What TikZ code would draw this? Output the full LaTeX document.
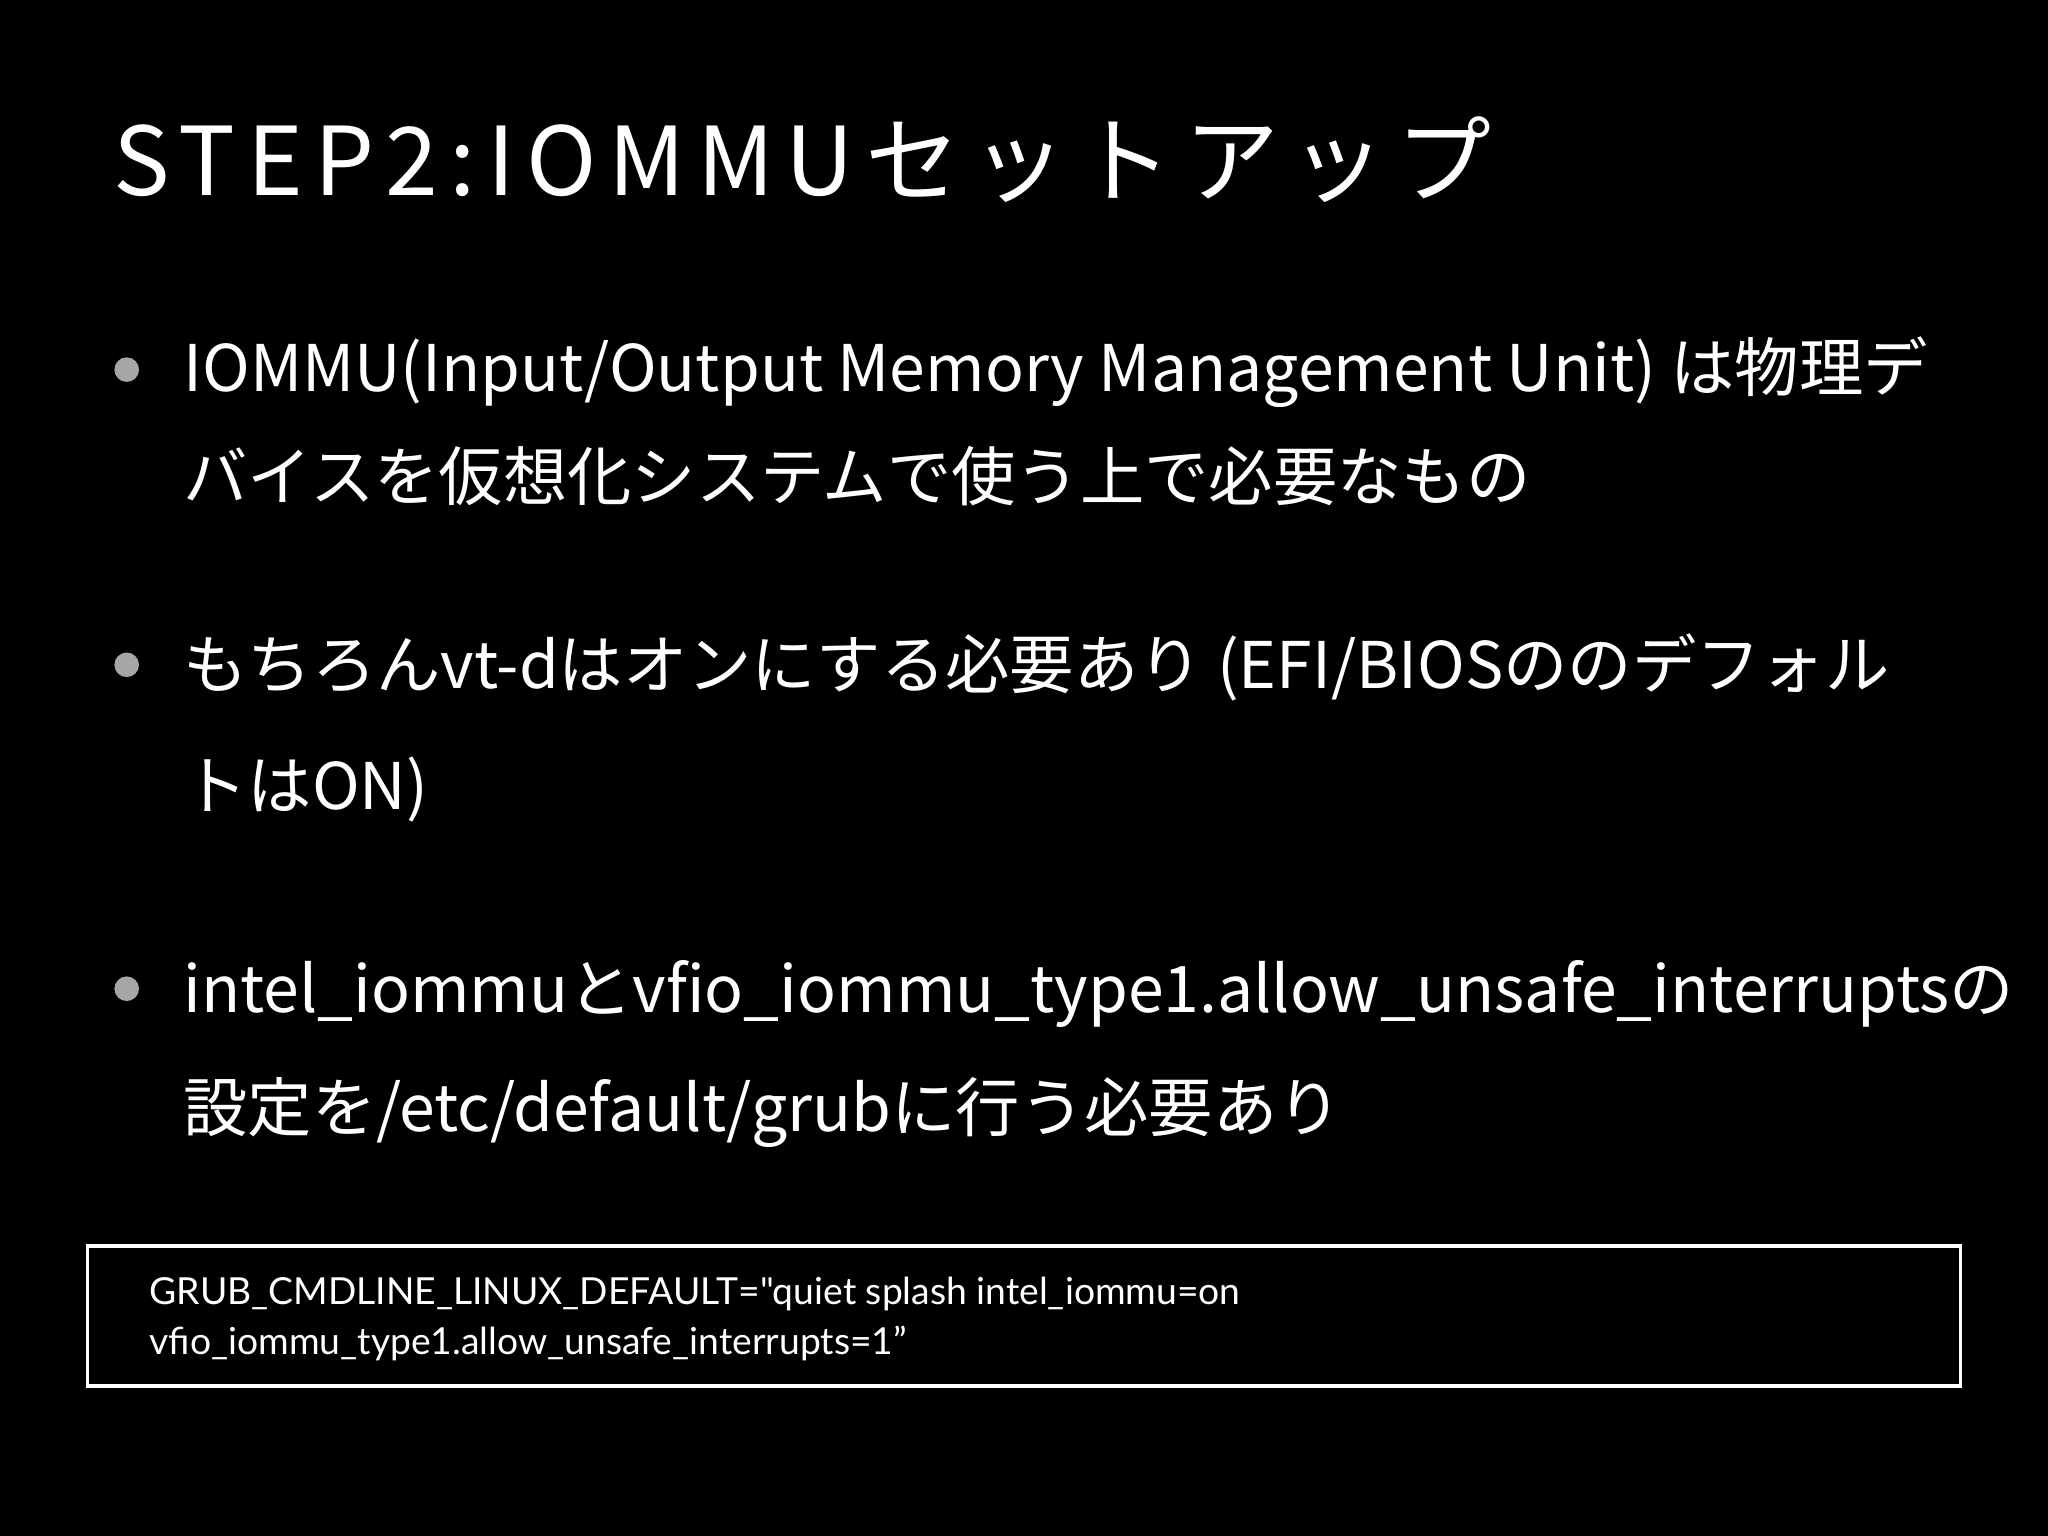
\documentclass[tikz,border=0pt]{standalone}
\usepackage{fontspec}
\setmainfont{Noto Sans CJK JP}
\newfontfamily\latinf{Lato}
\begin{document}
\begin{tikzpicture}[x=0.01306cm,y=-0.01306cm,
  body/.style={anchor=base west,inner sep=0,text=white,font=\fontsize{18.3}{22}\selectfont},
  code/.style={anchor=base west,inner sep=0,text=white,font=\latinf\fontsize{10.6}{13}\selectfont},
  dot/.style={circle,fill=gray!70,inner sep=0,minimum size=7pt}]
\fill[black] (0,0) rectangle (1568,1176);
\useasboundingbox (0,0) rectangle (1568,1176);
\node[anchor=base west,inner sep=0,text=white,font=\fontsize{27}{30}\selectfont\addfontfeature{LetterSpace=12}] (title) at (86,150) {STEP2:IOMMUセットアップ};
\node[dot] (b1) at (97,283) {};
\node[body] (l1) at (140,300) {IOMMU(Input/Output Memory Management Unit) は物理デ};
\node[body] (l2) at (140,383) {バイスを仮想化システムで使う上で必要なもの};
\node[dot] (b2) at (97,509) {};
\node[body] (l3) at (140,527) {もちろんvt-dはオンにする必要あり (EFI/BIOSののデフォル};
\node[body] (l4) at (140,620) {トはON)};
\node[dot] (b3) at (97,757) {};
\node[body] (l5) at (140,775) {intel\_iommuとvfio\_iommu\_type1.allow\_unsafe\_interruptsの};
\node[body] (l6) at (140,866) {設定を/etc/default/grubに行う必要あり};
\draw[white,line width=1pt] (67,954) rectangle (1501,1061);
\node[code] (c1) at (114,999) {GRUB\_CMDLINE\_LINUX\_DEFAULT="quiet splash intel\_iommu=on};
\node[code] (c2) at (114,1037) {vfio\_iommu\_type1.allow\_unsafe\_interrupts=1”};
\end{tikzpicture}
\end{document}
